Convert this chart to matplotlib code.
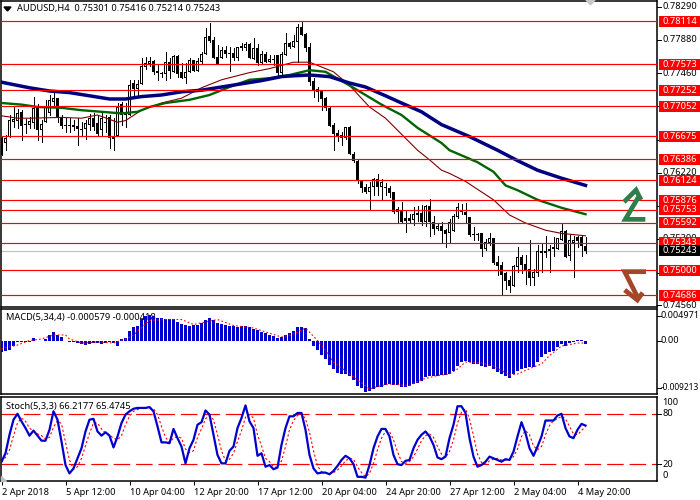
import numpy as np
import matplotlib
matplotlib.use("Agg")
import matplotlib.pyplot as plt
from matplotlib.patches import Rectangle, Polygon
from matplotlib.lines import Line2D

plt.rcParams['font.family'] = ['Noto Sans', 'DejaVu Sans']

# prices in units of 0.0001
opens = [7665,7659,7667,7685,7687,7698,7683,7682,7684,7704,
7675,7685,7697,7710,7715,7692,7682,7682,7682,7680,
7677,7677,7682,7690,7684,7675,7684,7692,7664,7668,
7708,7694,7694,7734,7727,7733,7754,7758,7762,7749,
7747,7745,7760,7748,7768,7748,7740,7748,7763,7749,
7760,7770,7793,7788,7767,7765,7775,7772,7772,7765,
7778,7778,7783,7764,7778,7759,7770,7760,7764,7769,
7747,7769,7784,7779,7785,7804,7795,7779,7736,7727,
7724,7715,7703,7682,7672,7669,7665,7679,7645,7637,
7612,7604,7598,7604,7614,7604,7604,7603,7598,7573,
7575,7565,7562,7563,7569,7571,7560,7580,7560,7551,
7555,7550,7546,7549,7567,7575,7573,7567,7545,7545,
7546,7527,7534,7540,7510,7506,7497,7488,7480,7504,
7517,7508,7502,7490,7497,7524,7524,7524,7529,7527,
7538,7549,7518,7534,7541,7541,7530]
highs = [7667,7669,7694,7704,7702,7700,7689,7692,7717,7708,
7688,7713,7719,7722,7715,7694,7690,7690,7688,7690,
7685,7688,7695,7696,7694,7696,7694,7694,7690,7709,
7710,7709,7738,7738,7738,7765,7767,7767,7763,7757,
7748,7773,7765,7769,7769,7759,7759,7765,7763,7765,
7773,7803,7809,7792,7782,7779,7780,7779,7778,7779,
7784,7785,7784,7790,7783,7774,7773,7769,7769,7769,
7773,7797,7785,7794,7808,7810,7797,7784,7740,7729,
7725,7717,7704,7684,7675,7673,7679,7680,7648,7638,
7613,7608,7610,7615,7620,7614,7609,7605,7598,7579,
7585,7575,7570,7579,7580,7582,7582,7589,7568,7559,
7560,7551,7564,7570,7584,7583,7584,7567,7554,7546,
7546,7539,7546,7540,7518,7510,7498,7493,7507,7529,
7519,7519,7538,7502,7531,7533,7543,7531,7542,7540,
7559,7550,7544,7543,7543,7543,7542]
lows = [7644,7650,7667,7679,7678,7663,7672,7678,7678,7663,
7660,7685,7694,7707,7685,7678,7673,7673,7675,7657,
7669,7664,7675,7675,7668,7669,7673,7653,7650,7668,
7682,7679,7694,7718,7717,7733,7752,7755,7745,7738,
7742,7738,7740,7748,7742,7740,7734,7748,7749,7749,
7759,7770,7785,7765,7758,7765,7767,7749,7763,7763,
7775,7775,7765,7764,7757,7759,7760,7760,7757,7744,
7744,7769,7778,7779,7760,7794,7774,7732,7717,7712,
7700,7700,7680,7650,7662,7657,7664,7645,7635,7609,
7598,7597,7577,7594,7594,7589,7594,7591,7571,7560,
7560,7548,7559,7557,7562,7557,7555,7543,7545,7550,
7535,7529,7535,7549,7565,7570,7559,7543,7538,7538,
7518,7525,7531,7508,7494,7470,7476,7473,7480,7498,
7496,7483,7481,7481,7493,7498,7516,7498,7518,7527,
7538,7516,7513,7492,7529,7518,7521]
closes = [7644,7665,7688,7689,7697,7680,7682,7687,7703,7675,
7683,7704,7713,7715,7692,7680,7680,7680,7679,7677,
7675,7684,7690,7679,7670,7690,7685,7665,7667,7704,
7694,7698,7732,7727,7733,7755,7759,7762,7748,7747,
7745,7760,7749,7768,7745,7740,7748,7763,7749,7762,
7770,7792,7787,7765,7758,7775,7770,7770,7765,7779,
7780,7783,7765,7778,7759,7770,7760,7764,7763,7747,
7770,7784,7779,7787,7804,7794,7778,7735,7725,7723,
7714,7703,7680,7670,7667,7665,7679,7645,7637,7612,
7603,7598,7604,7614,7604,7610,7603,7597,7573,7577,
7560,7562,7565,7570,7571,7560,7580,7560,7551,7555,
7549,7545,7560,7568,7579,7573,7569,7544,7544,7544,
7527,7535,7540,7509,7505,7494,7487,7480,7505,7517,
7507,7499,7490,7498,7524,7521,7521,7527,7527,7540,
7549,7516,7538,7538,7537,7530,7524]

ma_slow_i = [0,5,7,12,17,22,27,31,35,40,45,50,55,60,65,70,73,77,82,87,91,96,100,105,110,117,124,129,134,140,146]
ma_slow = [7735,7730,7728,7724,7722,7718,7714,7714,7717,7719,7723,7725,7729,7733,7737,7742,7743,7744,7742,7734,7729,7718,7709,7698,7682,7667,7650,7637,7625,7615,7606]
ma_mid_i = [0,5,9,15,20,25,30,34,37,41,47,52,57,62,67,72,77,81,87,92,95,100,104,110,112,119,123,126,129,134,140,146]
ma_mid = [7709,7707,7704,7703,7700,7698,7696,7698,7704,7709,7713,7719,7729,7738,7740,7744,7750,7748,7731,7716,7707,7694,7678,7659,7650,7635,7623,7606,7600,7588,7578,7570]
ma_fast_i = [0,4,7,15,20,24,29,31,35,40,45,50,55,62,67,73,77,83,87,92,96,104,107,110,112,116,123,127,131,136,140,146]
ma_fast = [7693,7690,7690,7691,7690,7694,7685,7687,7700,7709,7715,7728,7738,7747,7752,7760,7760,7748,7731,7704,7690,7650,7638,7625,7621,7611,7588,7569,7559,7550,7546,7543]

level_values = [0.78114,0.77573,0.77252,0.77052,0.76675,0.76386,0.76124,0.75876,0.75753,0.75592,0.75343,0.75000,0.74686]
bid_value = 0.75243
price_ticks = [0.78290,0.77880,0.77460,0.77050,0.76630,0.76220,0.75800,0.75390,0.74970,0.74560]

# MACD in units of 0.0001
macd_hist = [-23,-20,-19,-10,-3,-3,-3,-2,5,0,0,3,11,17,12,7,0,-2,-3,-5,-7,-9,-7,-5,-5,-7,-4,-3,-5,-11,
3,5,20,27,30,43,50,52,49,45,45,43,43,43,37,33,32,30,31,31,35,42,45,41,35,33,31,30,29,28,
29,29,27,24,22,18,15,12,10,5,7,12,15,19,27,28,25,3,-10,-19,-28,-37,-48,-57,-65,-67,-67,-71,-78,-90,
-95,-102,-100,-97,-93,-92,-89,-87,-88,-88,-92,-92,-90,-87,-85,-81,-73,-71,-71,-70,-69,-69,-67,-60,-50,-42,-41,-42,-47,-47,
-51,-53,-51,-57,-62,-67,-70,-75,-67,-60,-57,-55,-53,-52,-42,-33,-27,-23,-20,-13,-7,-10,-5,-2,1,2,-6]
macd_sig_i = [0,4,7,10,13,16,17,20,24,28,31,33,36,37,41,45,48,51,54,58,63,66,70,73,76,79,81,83,87,90,92,95,97,102,105,109,112,114,116,120,123,125,127,129,133,135,137,140,144,146]
macd_sig = [-17,-9,0,3,11,11,3,-5,-3,-5,3,11,33,40,42,42,32,37,42,30,25,17,7,13,25,0,-20,-43,-67,-85,-97,-90,-87,-90,-78,-70,-67,-57,-43,-45,-51,-60,-69,-67,-53,-47,-30,-11,-5,-5]

stoch_k = [23,33,55,73,80,71,63,54,60,54,48,48,61,83,73,47,19,9,15,27,39,59,73,74,59,54,58,54,40,53,69,79,83,86,87,87,87,88,83,65,46,46,45,62,51,41,21,39,49,67,70,84,79,55,31,21,21,36,41,63,75,90,71,63,30,33,17,19,14,16,43,63,77,77,81,81,61,31,15,9,10,10,8,12,18,25,30,27,20,5,5,4,19,39,53,62,62,53,31,20,19,24,25,39,49,55,59,53,43,28,26,29,51,67,89,89,81,51,29,17,19,23,29,27,25,23,26,25,35,53,70,57,39,30,41,53,72,72,72,78,80,63,53,51,61,68,66]
stoch_d = [23,28,37,54,69,75,71,63,59,56,54,50,52,64,72,68,46,25,14,17,27,42,57,69,69,62,57,55,51,49,54,67,77,83,85,87,87,87,86,79,65,52,46,51,53,51,38,34,36,52,62,74,78,73,55,36,24,26,33,47,60,76,79,75,55,42,27,23,17,16,24,41,61,72,78,80,74,58,36,18,11,10,9,10,13,18,24,27,26,17,10,5,9,21,37,51,59,59,49,35,23,21,23,29,38,48,54,56,52,41,32,28,35,49,69,82,86,74,54,32,22,20,24,26,27,25,25,25,29,38,53,60,55,42,37,41,55,66,72,74,77,74,65,56,55,60,65]

date_labels = ['2 Apr 2018','5 Apr 12:00','10 Apr 04:00','12 Apr 20:00','17 Apr 12:00','20 Apr 04:00','24 Apr 20:00','27 Apr 12:00','2 May 04:00','4 May 20:00']
date_pos = [0,16,32,48,64,80,96,112,128,144]

W, H = 700, 500
fig = plt.figure(figsize=(W/100, H/100), dpi=100, facecolor='white')

def pane(top, bottom, left=1, right=657):
    a = fig.add_axes([left/W, 1-bottom/H, (right-left)/W, (bottom-top)/H])
    a.set_xlim((left-1.5)/4, (right-1.5)/4)
    a.set_xticks([]); a.set_yticks([])
    for s in a.spines.values():
        s.set_linewidth(1.1)
    return a

FS = 6.7
TXT = dict(fontsize=FS, color='black')
LX = 1.0085

# ---------- price pane
ax = pane(1, 307)
ax.set_ylim(0.7454, 0.78365)
o, h, l, c = [np.array(v)/1e4 for v in (opens, highs, lows, closes)]
idx = np.arange(len(o))
PX = 0.000125   # one pixel of price
ax.vlines(idx, l, h, color='black', lw=0.72, zorder=2, antialiased=False)
body_lo = np.minimum(o, c)
body_hi = np.maximum(np.maximum(o, c), body_lo + PX)
ax.bar(idx, body_hi - body_lo, bottom=body_lo, width=0.75, color='black', lw=0, zorder=3, antialiased=False)
hollow = (c > o) & (body_hi - body_lo >= 2.5*PX)
ax.bar(idx[hollow], (body_hi - body_lo - 2*PX)[hollow], bottom=(body_lo + PX)[hollow], width=0.25, color='white', lw=0, zorder=3.5, antialiased=False)
ax.plot(ma_fast_i, np.array(ma_fast)/1e4, color='#800000', lw=0.8, zorder=4)
ax.plot(ma_mid_i, np.array(ma_mid)/1e4, color='#006400', lw=1.7, zorder=5)
ax.plot(ma_slow_i, np.array(ma_slow)/1e4, color='#000080', lw=2.5, zorder=6)
for v in level_values:
    ax.axhline(v, color='#ff0000', lw=0.85, zorder=7)
ax.axhline(bid_value, color='#c0c0c0', lw=0.85, zorder=1)

yt = ax.get_yaxis_transform()
TAG_H = 11*PX
for v in price_ticks:
    ax.plot([1, 1.006], [v, v], transform=yt, color='black', lw=0.7, clip_on=False, zorder=8)
    ax.text(LX, v, f'{v:.5f}', transform=yt, va='center', ha='left', clip_on=False, zorder=8, **TXT)
for v, col in [(x, '#ff0000') for x in level_values] + [(bid_value, 'black')]:
    ax.add_patch(Rectangle((1.003, v-TAG_H/2), 0.07, TAG_H, transform=yt, facecolor=col, edgecolor='none', clip_on=False, zorder=9))
    ax.text(LX, v, f'{v:.5f}', transform=yt, va='center', ha='left', color='white', fontsize=FS, clip_on=False, zorder=10)

# ---------- MACD pane
ax2 = pane(309, 394)
ax2.set_ylim(-0.0107, 0.0063)
ax2.text(0.0076, 0.895, 'MACD(5,34,4) -0.000579 -0.000418', transform=ax2.transAxes, va='center', ha='left', zorder=1, **TXT)
ax2.bar(np.arange(len(macd_hist)), np.array(macd_hist)/1e4, width=0.75, color='#0000cd', lw=0, zorder=3, antialiased=False)
ax2.plot(macd_sig_i, np.array(macd_sig)/1e4, color='#ff0000', lw=0.8, ls=(0, (1.5, 2)), zorder=4)
yt2 = ax2.get_yaxis_transform()
for v, t, fs in [(0.0049, '0.004971', 6.5), (0.0, '0.00', FS), (-0.0095, '-0.009213', 6.0)]:
    ax2.plot([1, 1.006], [v, v], transform=yt2, color='black', lw=0.7, clip_on=False)
    ax2.text(1.006, v, t, transform=yt2, va='center', ha='left', clip_on=False, fontsize=fs, color='black')

# ---------- Stochastic pane
ax3 = pane(397, 481)
ax3.set_ylim(0, 100)
ax3.text(0.0076, 0.89, 'Stoch(5,3,3) 66.2177 65.4745', transform=ax3.transAxes, va='center', ha='left', **TXT)
for v in (20, 80):
    ax3.axhline(v, color='#ff0000', lw=0.85, ls=(0, (14, 5)), zorder=1)
ax3.plot(np.arange(len(stoch_d)), stoch_d, color='#ff0000', lw=0.8, ls=(0, (2, 2)), zorder=3)
ax3.plot(np.arange(len(stoch_k)), stoch_k, color='#0000cd', lw=1.6, zorder=4)
tr3 = ax3.get_yaxis_transform()
for lab, v in [('100', 93), ('80', 80), ('20', 20), ('0', 7)]:
    ax3.text(LX, v, lab, transform=tr3, va='center', ha='left', clip_on=False, **TXT)
for v in (20, 80):
    ax3.plot([1, 1.006], [v, v], transform=tr3, color='black', lw=0.7, clip_on=False)

# date axis under the lowest pane
ax3.set_xticks(date_pos)
ax3.set_xticklabels(date_labels, ha='left', fontsize=FS)
ax3.tick_params(axis='x', length=3, width=0.7, pad=2)

# ---------- overlay: markers drawn on chart
ov = fig.add_axes([0, 0, 1, 1], zorder=20)
ov.set_xlim(0, W); ov.set_ylim(H, 0); ov.axis('off'); ov.patch.set_alpha(0)
ov.add_patch(Polygon([(4, 7), (11, 7), (7.5, 11)], closed=True, color='black'))
ov.add_patch(Polygon([(586, 0), (595, 0), (590.5, 5)], closed=True, color='#c8c8c8'))
ov.add_patch(Polygon([(1, 476), (1, 481), (6, 481)], closed=True, color='#c0c0c0'))
ov.text(17, 8.5, 'AUDUSD,H4  0.75301 0.75416 0.75214 0.75243', va='center', ha='left', **TXT)
GREEN, BROWN = '#2f7d4a', '#a5462a'
def zp(pts):
    xs, ys = zip(*pts)
    return [350+x/3 for x in xs], [150+y/3 for y in ys]
for pts, col in [([(886,208),(826,208),(866,140)], GREEN),
                 ([(822,156),(858,120),(873,150)], GREEN),
                 ([(888,365),(824,365),(862,440)], BROWN),
                 ([(824,420),(862,450),(878,428)], BROWN)]:
    xs, ys = zp(pts)
    ov.add_line(Line2D(xs, ys, color=col, lw=3.4, solid_joinstyle='miter', solid_capstyle='butt'))

fig.savefig('out.png', dpi=100, facecolor='white')
